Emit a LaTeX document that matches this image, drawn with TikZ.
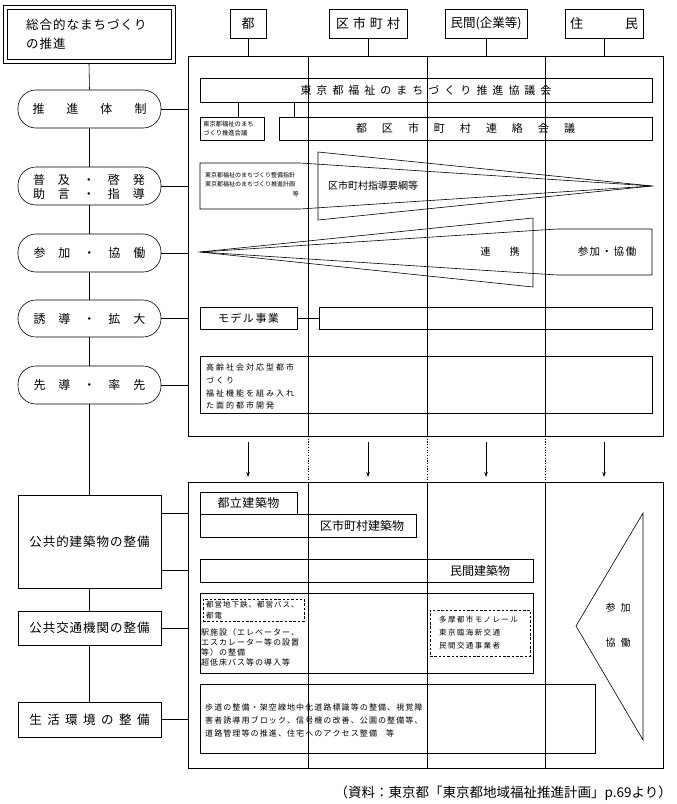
\documentclass[tikz,border=0pt]{standalone}
\usepackage{fontspec}
\setmainfont{Noto Sans CJK JP}
\usetikzlibrary{fit,arrows.meta}
\makeatletter
\newcommand\lsp[2]{{\def\lsp@sep{}\@tfor\lsp@c:=#2\do{\lsp@sep\lsp@c\def\lsp@sep{\hspace{#1}}}}}
\makeatother
\newcommand\fs[1]{\fontsize{#1}{#1}\selectfont}
\begin{document}
\begin{tikzpicture}[x=1pt,y=-1pt,
  bx/.style={draw,line width=0.6pt,inner sep=0pt},
  frame/.style={draw,line width=0.8pt,inner sep=0pt},
  rbx/.style={draw,line width=0.6pt,inner sep=0pt,rounded corners=18pt},
  dbx/.style={draw,line width=0.6pt,inner sep=0pt,dash pattern=on 2.5pt off 1.8pt},
  col/.style={line width=0.6pt},
  dcol/.style={line width=0.6pt,dash pattern=on 1.2pt off 1.5pt},
  ln/.style={line width=0.6pt},
  arr/.style={line width=0.6pt,-{Stealth[length=5pt,width=3.5pt]}},
  tl/.style={inner sep=0pt,anchor=west},
  tc/.style={inner sep=0pt}]
\useasboundingbox (0,0) rectangle (677,804);

% ---------- title ----------
\node[bx,fit={(3,5) (175,63)}] (title) {};
\node[bx,fit={(7,9) (171,59)}] (titlein) {};
\node[tl] (tt1) at (26,25) {\fs{12.5}\lsp{1pt}{総合的なまちづくり}};
\node[tl] (tt2) at (26,44) {\fs{12.5}\lsp{1pt}{の推進}};

% ---------- frames ----------
\node[frame,fit={(188,56) (663,436)}] (F1) {};
\node[frame,fit={(188,482) (663,768)}] (F2) {};
\foreach \x in {308,427,545}{
  \draw[col] (\x,56) -- (\x,436);
  \draw[dcol] (\x,436) -- (\x,482);
  \draw[col] (\x,482) -- (\x,768);
}

% ---------- headers ----------
\node[bx,fit={(230,9) (266,38)}] (hTo) {};
\node[tc] (hTot) at (hTo) {\fs{13}都};
\node[bx,fit={(329,9) (407,38)}] (hKu) {};
\node[tc] (hKut) at (hKu) {\fs{13}\lsp{4pt}{区市町村}};
\node[bx,fit={(445,9) (527,38)}] (hMin) {};
\node[tc] (hMint) at (hMin) {\fs{12.5}民間(企業等)};
\node[bx,fit={(565,9) (643,38)}] (hJu) {};
\node[tc] (hJut) at (hJu) {\fs{13}\lsp{42pt}{住民}};
\foreach \h in {hTo,hKu,hMin,hJu}{\draw[ln] (\h.south) -- (\h.south |- F1.north);}

% ---------- left column (upper) ----------
\node[rbx,fit={(18,90) (161,128)}] (r1) {};
\node[tc] (r1t) at (r1) {\fs{12}\lsp{22pt}{推進体制}};
\node[rbx,fit={(18,167) (161,205)}] (r2) {};
\node[tc] (r2a) at (89,180) {\fs{12}\lsp{13pt}{普及・啓発}};
\node[tc] (r2b) at (89,194) {\fs{12}\lsp{13pt}{助言・指導}};
\node[rbx,fit={(18,234) (161,272)}] (r3) {};
\node[tc] (r3t) at (r3) {\fs{12}\lsp{13pt}{参加・協働}};
\node[rbx,fit={(18,300) (161,337)}] (r4) {};
\node[tc] (r4t) at (r4) {\fs{12}\lsp{13pt}{誘導・拡大}};
\node[rbx,fit={(18,366) (161,404)}] (r5) {};
\node[tc] (r5t) at (r5) {\fs{12}\lsp{13pt}{先導・率先}};

% ---------- left column (lower) ----------
\node[bx,fit={(18,495) (161,588)}] (p1) {};
\node[tc] (p1t) at (p1) {\fs{12.5}\lsp{1pt}{公共的建築物の整備}};
\node[bx,fit={(18,611) (161,645)}] (p2) {};
\node[tc] (p2t) at (p2) {\fs{12.5}\lsp{1pt}{公共交通機関の整備}};
\node[bx,fit={(18,702) (161,737)}] (p3) {};
\node[tc] (p3t) at (p3) {\fs{12.5}\lsp{5.5pt}{生活環境の整備}};

\draw[ln] (title.south) -- (r1.north);
\draw[ln] (r1.south) -- (r2.north);
\draw[ln] (r2.south) -- (r3.north);
\draw[ln] (r3.south) -- (r4.north);
\draw[ln] (r4.south) -- (r5.north);
\draw[ln] (r5.south) -- (p1.north);
\draw[ln] (p1.south) -- (p2.north);
\draw[ln] (p2.south) -- (p3.north);
\foreach \r in {r1,r2,r3,r4,r5}{\draw[ln] (\r.east) -- (\r.east -| F1.west);}
\coordinate (y513) at (0,513);
\coordinate (y570) at (0,570);
\draw[ln] (p1.east |- y513) -- (F2.west |- y513);
\draw[ln] (p1.east |- y570) -- (F2.west |- y570);
\draw[ln] (p2.east) -- (p2.east -| F2.west);
\draw[ln] (p3.east) -- (p3.east -| F2.west);

% ---------- frame 1 contents ----------
\node[bx,fit={(200,78) (652,102)}] (kyo) {};
\node[tc] (kyot) at (kyo) {\fs{11}\lsp{5pt}{東京都福祉のまちづくり推進協議会}};
\node[bx,fit={(200,117) (264,140)}] (skai) {};
\node[tl] (skai1) at (203,124) {\fs{6.3}東京都福祉のまち};
\node[tl] (skai2) at (203,133) {\fs{6.3}づくり推進会議};
\node[bx,fit={(279,117) (652,140)}] (ren) {};
\node[tc] (rent) at (ren) {\fs{11}\lsp{15pt}{都区市町村連絡会議}};
\coordinate (k1) at (238,102);
\coordinate (k2) at (294,102);
\draw[ln] (k1) -- (k1 |- skai.north);
\draw[ln] (k2) -- (k2 |- ren.north);

% wedges
\draw[ln] (200,163) -- (300,163) -- (652,186) -- (300,209) -- (200,209) -- cycle;
\draw[ln] (318,152) -- (652,186) -- (318,220) -- cycle;
\node[tl] (w1a) at (205,175) {\fs{6}東京都福祉のまちづくり整備指針};
\node[tl] (w1b) at (205,184) {\fs{6}東京都福祉のまちづくり推進計画};
\node[inner sep=0pt,anchor=east] (w1c) at (299,194) {\fs{6}等};
\node[tl] (w2t) at (328,186) {\fs{10}区市町村指導要綱等};

\draw[ln] (200,252) -- (533,218) -- (533,287) -- cycle;
\draw[ln] (200,252) -- (557,229) -- (652,229) -- (652,275) -- (557,275) -- cycle;
\node[tc] (w3t) at (500,252) {\fs{10}\lsp{19pt}{連携}};
\node[tc] (w4t) at (607,252) {\fs{10.5}\lsp{1.5pt}{参加・協働}};

\node[bx,fit={(200,307) (297,329)}] (model) {};
\node[tc] (modelt) at (model) {\fs{11}\lsp{1.5pt}{モデル事業}};
\node[bx,fit={(319,307) (652,329)}] (modelr) {};
\draw[ln] (model.east) -- (modelr.west);

\node[bx,fit={(200,356) (652,413)}] (kou) {};
\node[tl] (kou1) at (206,367) {\fs{8}\lsp{2pt}{高齢社会対応型都市}};
\node[tl] (kou2) at (206,380) {\fs{8}\lsp{2pt}{づくり}};
\node[tl] (kou3) at (206,393) {\fs{8}\lsp{2pt}{福祉機能を組み入れ}};
\node[tl] (kou4) at (206,405) {\fs{8}\lsp{2pt}{た面的都市開発}};

% ---------- arrows ----------
\foreach \x [count=\i] in {248,368,486,604}{
  \coordinate (at\i) at (\x,442);
  \coordinate (ab\i) at (\x,477);
  \draw[arr] (at\i) -- (ab\i);
}

% ---------- frame 2 contents ----------
\node[bx,fit={(200,492) (297,514)}] (toritsu) {};
\node[tc] (toritsut) at (toritsu) {\fs{12}\lsp{0.5pt}{都立建築物}};
\node[bx,fit={(200,514) (416,537)}] (kuken) {};
\node[tc] (kukent) at (362,526) {\fs{12}区市町村建築物};
\node[bx,fit={(200,559) (533,582)}] (minken) {};
\node[tc] (minkent) at (480,571) {\fs{12}民間建築物};

\node[bx,fit={(200,593) (533,673)}] (tra) {};
\node[dbx,fit={(203,599) (304,621)}] (trd1) {};
\node[tl] (trd1a) at (206,605) {\fs{7.5}\lsp{1pt}{都営地下鉄、都営バス、}};
\node[tl] (trd1b) at (206,616) {\fs{7.5}\lsp{1pt}{都電}};
\node[tl] (tra1) at (201,632) {\fs{8}\lsp{1pt}{駅施設（エレベーター、}};
\node[tl] (tra2) at (201,642) {\fs{8}\lsp{1pt}{エスカレーター等の設置}};
\node[tl] (tra3) at (201,652) {\fs{8}\lsp{1pt}{等）の整備}};
\node[tl] (tra4) at (201,662) {\fs{8}\lsp{1pt}{超低床バス等の導入等}};
\node[dbx,fit={(430,610) (530,656)}] (trd2) {};
\node[tl] (trd2a) at (439,620) {\fs{7.5}\lsp{1.4pt}{多摩都市モノレール}};
\node[tl] (trd2b) at (439,633) {\fs{7.5}\lsp{1.4pt}{東京臨海新交通}};
\node[tl] (trd2c) at (439,646) {\fs{7.5}\lsp{1.4pt}{民間交通事業者}};

\node[bx,fit={(200,684) (595,753)}] (life) {};
\node[tl] (life1) at (205,707) {\fs{8}\lsp{1.1pt}{歩道の整備・架空線地中化道路標識等の整備、視覚障}};
\node[tl] (life2) at (205,720) {\fs{8}\lsp{1.1pt}{害者誘導用ブロック、信号機の改善、公園の整備等、}};
\node[tl] (life3) at (205,733) {\fs{8}\lsp{1.1pt}{道路管理等の推進、住宅へのアクセス整備}\hspace{9pt}等};

\draw[ln] (643,513) -- (576,626) -- (643,740) -- cycle;
\node[tc] (trit1) at (618,608) {\fs{10}\lsp{5pt}{参加}};
\node[tc] (trit2) at (618,643) {\fs{10}\lsp{5pt}{協働}};

% ---------- caption ----------
\node[inner sep=0pt,anchor=east] (cap) at (672,793) {\fs{13.5}（資料：東京都「東京都地域福祉推進計画」p.69より）};
\end{tikzpicture}
\end{document}
